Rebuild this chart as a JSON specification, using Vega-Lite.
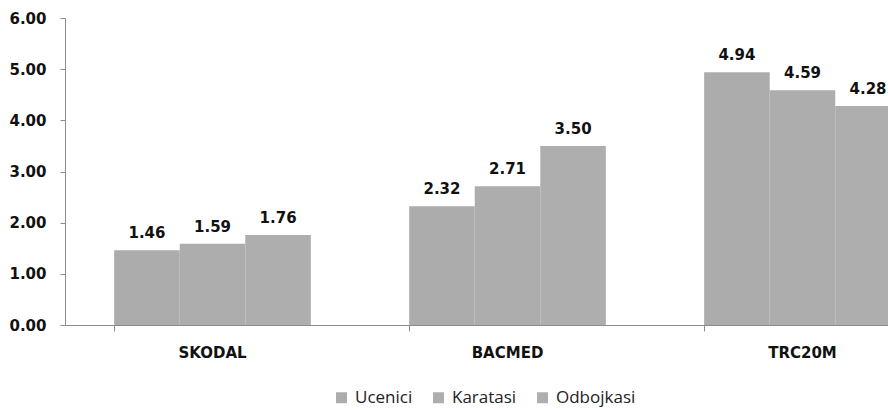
{
  "$schema": "https://vega.github.io/schema/vega-lite/v6.json",
  "autosize": "none",
  "padding": {"left": 65, "top": 18, "right": 0, "bottom": 85},
  "width": 885,
  "height": 307,
  "background": "white",
  "config": {"view": {"stroke": null}, "font": "DejaVu Sans"},
  "data": {"values": [
    {"cat": "SKODAL", "grp": "Ucenici", "v": 1.46},
    {"cat": "SKODAL", "grp": "Karatasi", "v": 1.59},
    {"cat": "SKODAL", "grp": "Odbojkasi", "v": 1.76},
    {"cat": "BACMED", "grp": "Ucenici", "v": 2.32},
    {"cat": "BACMED", "grp": "Karatasi", "v": 2.71},
    {"cat": "BACMED", "grp": "Odbojkasi", "v": 3.50},
    {"cat": "TRC20M", "grp": "Ucenici", "v": 4.94},
    {"cat": "TRC20M", "grp": "Karatasi", "v": 4.59},
    {"cat": "TRC20M", "grp": "Odbojkasi", "v": 4.28}
  ]},
  "encoding": {
    "xOffset": {"field": "grp", "type": "nominal", "sort": ["Ucenici", "Karatasi", "Odbojkasi"], "scale": {"paddingInner": 0, "paddingOuter": 0}},
    "y": {"field": "v", "type": "quantitative", "scale": {"domain": [0, 6], "nice": false}}
  },
  "layer": [
    {
      "mark": {"type": "bar"},
      "encoding": {
        "x": {"field": "cat", "type": "nominal", "sort": ["SKODAL", "BACMED", "TRC20M"],
          "scale": {"paddingInner": 0.3333, "paddingOuter": 0.1667},
          "axis": {"orient": "bottom", "title": null, "labelAngle": 0, "ticks": false, "domainColor": "#8c8c8c", "labelFont": "DejaVu Sans", "labelFontWeight": "bold", "labelFontSize": 15, "labelColor": "#111111", "labelPadding": 20}},
        "y": {"field": "v", "type": "quantitative",
          "axis": {"title": null, "values": [0, 1, 2, 3, 4, 5, 6], "format": ".2f", "grid": false, "domainColor": "#8c8c8c", "tickColor": "#8c8c8c", "tickSize": 5, "labelFont": "DejaVu Sans", "labelFontWeight": "bold", "labelFontSize": 15, "labelColor": "#111111", "labelPadding": 14}},
        "color": {"field": "grp", "type": "nominal", "sort": ["Ucenici", "Karatasi", "Odbojkasi"],
          "scale": {"range": ["#acacac", "#adadad", "#aeaeae"]},
          "legend": {"title": null, "orient": "none", "direction": "horizontal", "legendX": 268, "legendY": 371, "symbolType": "square", "symbolSize": 120, "symbolStrokeWidth": 0, "labelFont": "Open Sans", "labelFontSize": 17, "labelColor": "#222222", "columnPadding": 17, "labelOffset": 5}}
      }
    },
    {
      "mark": {"type": "text", "baseline": "alphabetic", "dy": -12, "font": "DejaVu Sans", "fontWeight": "bold", "fontSize": 15, "color": "#111111"},
      "encoding": {
        "x": {"field": "cat", "type": "nominal", "sort": ["SKODAL", "BACMED", "TRC20M"], "axis": null},
        "text": {"field": "v", "type": "quantitative", "format": ".2f"}
      }
    },
    {
      "mark": {"type": "bar", "opacity": 0},
      "encoding": {
        "x": {"field": "cat", "type": "nominal", "sort": ["SKODAL", "BACMED", "TRC20M"],
          "axis": {"orient": "bottom", "title": null, "bandPosition": 0, "labels": false, "domain": false, "ticks": true, "tickSize": 6, "tickColor": "#8c8c8c"}}
      }
    }
  ],
  "resolve": {"axis": {"x": "independent"}}
}
